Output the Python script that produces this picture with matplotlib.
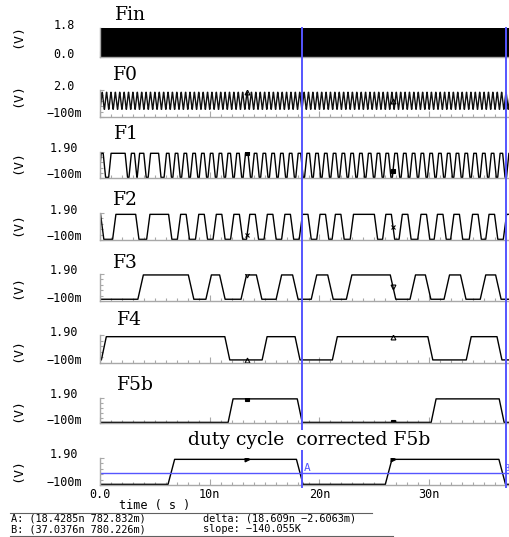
import numpy as np
import matplotlib
matplotlib.use("Agg")
import matplotlib.pyplot as plt
from matplotlib.transforms import ScaledTranslation, blended_transform_factory
from matplotlib.ticker import MultipleLocator, FixedLocator
from matplotlib.lines import Line2D

# ---------------- data (times in ns, levels in V) ----------------
names = ["Fin", "F0", "F1", "F2", "F3", "F4", "F5b", "duty cycle  corrected F5b"]
ylims = [(0.0, 1.8), (-0.1, 2.0), (-0.1, 1.9), (-0.1, 1.9),
         (-0.1, 1.9), (-0.1, 1.9), (-0.1, 1.9), (-0.1, 1.9)]
ytick_labels = [("1.8", "0.0"), ("2.0", "\u2212100m"), ("1.90", "\u2212100m"),
                ("1.90", "\u2212100m"), ("1.90", "\u2212100m"), ("1.90", "\u2212100m"),
                ("1.90", "\u2212100m"), ("1.90", "\u2212100m")]
xtick_vals = [0, 10, 20, 30]
xtick_labels = ["0.0", "10n", "20n", "30n"]

# clocks: period (ns), first rising edge, high width
Fin_clock = dict(period=0.2, first=0.05, width=0.1, count=187)
F0_clock = dict(period=0.4, first=0.1, width=0.2, count=94)

F1_pulses = [(0.0, 0.4), (0.9, 2.4), (2.75, 3.25), (3.5, 4.1), (4.5, 5.45),
             (5.95, 6.4), (6.75, 7.2), (7.55, 8.0), (8.35, 8.8), (9.15, 9.6),
             (9.95, 10.4), (10.75, 11.2), (11.55, 12.0), (12.35, 12.8), (13.15, 13.6),
             (13.95, 14.4), (14.75, 15.2), (15.55, 16.0), (16.35, 16.8), (17.15, 17.6),
             (17.95, 18.4), (18.75, 19.2), (19.55, 20.0), (20.35, 20.8), (21.15, 21.6),
             (21.95, 22.4), (22.75, 23.2), (23.55, 24.0), (24.35, 24.8), (25.15, 25.6),
             (25.95, 26.4), (26.75, 27.2), (27.55, 28.0), (28.35, 28.8), (29.15, 29.6),
             (29.95, 30.4), (30.75, 31.2), (31.55, 32.0), (32.35, 32.8), (33.15, 33.6),
             (33.95, 34.4), (34.75, 35.2), (35.55, 36.0), (36.35, 36.8), (37.15, 37.6)]
F2_pulses = [(-0.4, 0.2), (1.3, 3.4), (4.4, 6.4), (7.2, 8.0), (8.85, 9.65),
             (10.45, 11.25), (12.05, 12.85), (13.5, 14.3), (15.1, 15.9), (16.7, 17.5),
             (18.3, 19.1), (19.9, 20.7), (21.3, 22.1), (22.95, 25.15), (25.9, 26.7),
             (27.4, 28.2), (29.1, 29.9), (30.6, 31.4), (32.1, 32.9), (33.8, 34.6),
             (35.3, 36.1), (36.9, 37.7)]
F3_pulses = [(3.7, 8.3), (9.9, 11.15), (13.1, 14.5), (16.3, 17.8), (19.5, 21.0),
             (22.7, 26.7), (28.5, 29.9), (31.6, 33.1), (34.9, 36.3)]
F4_pulses = [(0.35, 11.6), (15.0, 18.0), (21.4, 30.1), (33.6, 36.4)]
F5b_pulses = [(11.9, 18.2), (30.4, 36.6)]
duty_pulses = [(6.5, 18.2), (26.3, 36.65)]

# low level, high level, edge time
levels = {"Fin": (0.0, 1.8, 0.02), "F0": (0.5, 1.82, 0.18), "F1": (-0.05, 1.8, 0.22),
          "F2": (-0.05, 1.8, 0.3), "F3": (0.03, 1.83, 0.5), "F4": (0.12, 1.78, 0.45),
          "F5b": (-0.05, 1.83, 0.45), "duty": (-0.05, 1.8, 0.6)}

cursor_A = (18.4285, 0.782832)
cursor_B = (37.0376, 0.780226)
marker_times = [13.4, 26.7]
info_lines = [("A: (18.4285n 782.832m)", "delta: (18.609n \u22122.6063m)"),
              ("B: (37.0376n 780.226m)", "slope: \u2212140.055K")]

# ---------------- helpers ----------------
def clock_pulses(c):
    starts = c["first"] + c["period"] * np.arange(c["count"])
    return list(zip(starts, starts + c["width"]))

def trace(pulses, lo, hi, tr, t_end=37.8):
    t = [-1.0]
    v = [lo]
    for r, f in pulses:
        t += [r - tr / 2, r + tr / 2, f - tr / 2, f + tr / 2]
        v += [lo, hi, hi, lo]
    t.append(t_end)
    v.append(lo)
    return np.array(t), np.array(v)

series = [clock_pulses(Fin_clock), clock_pulses(F0_clock), F1_pulses, F2_pulses,
          F3_pulses, F4_pulses, F5b_pulses, duty_pulses]
keys = ["Fin", "F0", "F1", "F2", "F3", "F4", "F5b", "duty"]
markers = ["s", "^", "s", "x", "v", "^", "s", ">"]

# ---------------- layout (pixels) ----------------
W, H = 510, 537
tops = [28, 90, 152, 213, 274, 335, 398, 458]
bottoms = [57, 117, 178, 240, 301, 363, 423, 485]
title_y = [15, 75, 134, 200, 263, 320, 385, 440]
title_x = [115, 113, 114, 113, 113, 117, 117, 188]
vlabel_y = [36, 95, 162, 224, 287, 350, 410, 470]
LEFT, RIGHT = 100, 510
XMAX = 37.36

gray = "#a8a8a8"
blue = "#5555ff"
mono = "DejaVu Sans Mono"

fig = plt.figure(figsize=(W / 100, H / 100), dpi=100)
fig.patch.set_facecolor("white")

axes = []
for i, key in enumerate(keys):
    rect = [LEFT / W, 1 - bottoms[i] / H, (RIGHT - LEFT) / W, (bottoms[i] - tops[i]) / H]
    ax = fig.add_axes(rect)
    axes.append(ax)
    lo, hi, tr = levels[key]
    t, v = trace(series[i], lo, hi, tr)
    if key == "Fin":
        ax.plot(t, v, color="black", lw=1.0, antialiased=False)
    elif key == "F0":
        ax.plot(t, v, color="#101010", lw=1.0)
    else:
        ax.plot(t, v, color="black", lw=1.0)
    mv = np.interp(marker_times, t, v)
    ax.plot(marker_times, mv, linestyle="none", marker=markers[i], ms=3.5,
            mec="black", mfc="none" if markers[i] in ("^", "v") else "black", mew=0.8)
    y0, y1 = ylims[i]
    ax.set_xlim(0, XMAX)
    ax.set_ylim(y0, y1)
    ax.set_facecolor("none")
    for s in ("top", "right"):
        ax.spines[s].set_visible(False)
    for s in ("left", "bottom"):
        ax.spines[s].set_color(gray)
        ax.spines[s].set_linewidth(1.0)
    ax.xaxis.set_major_locator(FixedLocator(xtick_vals))
    ax.xaxis.set_minor_locator(MultipleLocator(1))
    ax.set_yticks([y0, y1])
    ax.yaxis.set_minor_locator(FixedLocator(np.linspace(y0, y1, 6)))
    ax.tick_params(axis="x", which="major", direction="in", length=4, width=0.8,
                   color=gray, labelbottom=False)
    ax.tick_params(axis="x", which="minor", direction="in", length=2, width=0.8, color=gray)
    ax.tick_params(axis="y", which="major", direction="in", length=3, width=0.8,
                   color=gray, labelleft=False)
    ax.tick_params(axis="y", which="minor", direction="in", length=2, width=0.8, color=gray)
    # y tick labels
    off = ScaledTranslation(0, 3 / 100, fig.dpi_scale_trans)
    tr_lab = blended_transform_factory(ax.transAxes, ax.transData) + off
    hi_lab, lo_lab = ytick_labels[i]
    xa = (64 - LEFT) / (RIGHT - LEFT)
    ax.text(xa, y1, hi_lab, transform=tr_lab, ha="center", va="center",
            family=mono, fontsize=8.5, color="black", clip_on=False)
    ax.text(xa, y0, lo_lab, transform=tr_lab, ha="center", va="center",
            family=mono, fontsize=8.5, color="black", clip_on=False)
    # panel title
    fig.text(title_x[i] / W, 1 - title_y[i] / H, names[i], family="DejaVu Serif",
             fontsize=13.5, ha="left", va="center",
             bbox=dict(facecolor="white", edgecolor="none", pad=1.0) if key == "duty" else None)
    # unit label
    fig.text(18 / W, 1 - vlabel_y[i] / H, "(V)", rotation=90, family=mono,
             fontsize=9.5, ha="center", va="center")

axb = axes[-1]
axb.tick_params(axis="x", which="major", labelbottom=True, pad=2, labelsize=8.5)
axb.set_xticklabels(xtick_labels, family=mono)
fig.text(155 / W, 1 - 505 / H, "time ( s )", family=mono, fontsize=8.5,
         ha="center", va="center")

# cursors
axb.axhline(cursor_A[1], color=blue, lw=1.0)
vt = blended_transform_factory(axb.transData, fig.transFigure)
for cx in (cursor_A[0], cursor_B[0]):
    fig.add_artist(Line2D([cx, cx], [1 - 28 / H, 1 - 487 / H], transform=vt,
                          color=blue, lw=1.4, zorder=2))
axb.text(cursor_A[0] + 0.12, cursor_A[1] + 0.02, "A", color=blue, family=mono,
         fontsize=8, ha="left", va="bottom")
tb = blended_transform_factory(fig.transFigure, axb.transData)
axb.text(509.5 / W, cursor_B[1] + 0.02, "B", transform=tb, color=blue, family=mono,
         fontsize=6, ha="right", va="bottom", clip_on=False)

# info area
fig.add_artist(Line2D([10 / W, 372 / W], [1 - 513 / H, 1 - 513 / H], color="#606060", lw=0.8))
fig.add_artist(Line2D([10 / W, 393 / W], [1 - 535.5 / H, 1 - 535.5 / H], color="#606060", lw=0.8))
for j, (left_t, right_t) in enumerate(info_lines):
    yy = 1 - (518.5 + 11 * j) / H
    fig.text(11 / W, yy, left_t, family=mono, fontsize=7.4, ha="left", va="center")
    fig.text(203 / W, yy, right_t, family=mono, fontsize=7.4, ha="left", va="center")

fig.savefig("out.png", dpi=100, facecolor="white")
